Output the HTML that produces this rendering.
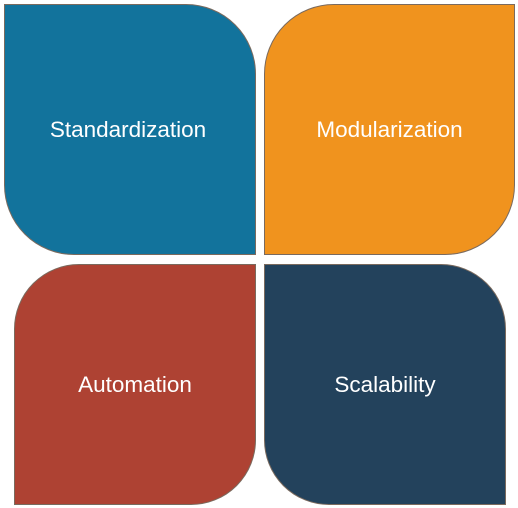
<!DOCTYPE html>
<html><head><style>
html,body{margin:0;padding:0;background:#fff;width:518px;height:508px;overflow:hidden}
.b{position:absolute;box-sizing:border-box;border:1px solid #7a6a5e;display:flex;align-items:center;justify-content:center;color:#fff;font-family:"Liberation Sans",Arial,sans-serif;font-size:22.5px}
</style></head><body>
<div class="b" style="left:4px;top:4px;width:252px;height:251px;background:#12739c;border-radius:0 70px 0 70px;padding-right:4px">Standardization</div>
<div class="b" style="left:264px;top:4px;width:251px;height:251px;background:#f0931e;border-radius:70px 0 70px 0">Modularization</div>
<div class="b" style="left:14px;top:264px;width:242px;height:241px;background:#ae4233;border-radius:65px 0 65px 0">Automation</div>
<div class="b" style="left:264px;top:264px;width:242px;height:241px;background:#23425c;border-radius:0 65px 0 65px">Scalability</div>
</body></html>
